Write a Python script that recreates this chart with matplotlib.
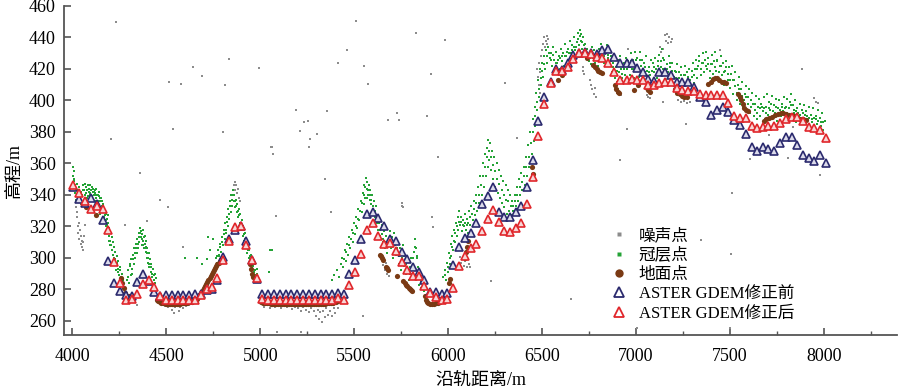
# ICESat-2 photon classes vs ASTER GDEM before/after correction
import numpy as np
import matplotlib.pyplot as plt
from matplotlib.lines import Line2D

plt.rcParams['font.family'] = ['Liberation Serif', 'Noto Sans CJK SC']
plt.rcParams['axes.unicode_minus'] = False

# ---- data ----
# ASTER GDEM samples: along-track distance (m), elevation before / after correction (m)
dem_x = [4004, 4036, 4067, 4098, 4130, 4161, 4191, 4223, 4253, 4283, 4315, 4345, 4377, 4409, 4436, 4466,
         4496, 4528, 4560, 4590, 4620, 4652, 4683, 4714, 4744, 4771, 4803, 4833, 4865, 4896, 4924, 4954, 4984,
         5011, 5042, 5073, 5104, 5135, 5166, 5197, 5228, 5259, 5290, 5321, 5352, 5383, 5414, 5447,
         5474, 5506, 5536, 5567, 5598, 5628, 5659, 5691, 5721, 5753, 5783, 5815, 5845, 5873, 5904, 5934, 5966, 5996,
         6028, 6058, 6090, 6120, 6150, 6180, 6210, 6240, 6270, 6300, 6330, 6360, 6390, 6420, 6450, 6480, 6510,
         6546, 6576, 6606, 6637, 6667, 6699, 6729, 6759, 6791, 6821, 6853, 6883, 6915, 6951, 6978,
         7007, 7036, 7066, 7096, 7125, 7155, 7185, 7217, 7247, 7279, 7309, 7341, 7372, 7400, 7430, 7462, 7492,
         7522, 7554, 7585, 7617, 7643, 7675, 7705, 7735, 7767, 7798, 7830, 7859, 7891, 7920, 7950, 7980, 8012]
dem_before = [345, 337.5, 335, 338, 334.5, 324, 298, 284, 279, 276.5, 276, 284.5, 289.5, 285.5, 278.5, 276,
              276.5, 276.5, 276.5, 276.5, 276.5, 276.8, 277, 279.5, 280, 286, 300.8, 311.9, 317.8, 320.5, 310.4, 298.7, 286.5,
              277, 276.8, 276.8, 276.8, 276.8, 276.8, 276.8, 276.8, 276.8, 276.8, 276.8, 276.8, 276.8, 278, 277,
              289.6, 298.7, 312, 328, 329, 325.2, 320.3, 311.9, 311, 304, 299.2, 294.1, 290.9, 286, 278.6, 278.6, 277.1, 277.6,
              295.5, 307, 312.5, 316, 322, 334, 339, 345, 329, 326, 326, 329.4, 333, 345, 362, 387, 402,
              412, 419.8, 419.4, 424, 428.9, 430, 431, 430.4, 429.5, 432.1, 432.5, 427.8, 424, 423.6, 423.6,
              420.4, 418.3, 413.4, 412.6, 418.3, 418.3, 416.2, 411.9, 411.9, 411.9, 408.8, 402.4, 399.2, 390.8, 394, 396.1, 392.9,
              387.6, 384.4, 378.7, 370.7, 367.9, 370.7, 369, 367.9, 372.8, 376.6, 376.6, 371.7, 365.4, 363.7, 361.8, 365.4, 360.1]
dem_after = [346.5, 341.5, 336, 331, 333, 331, 318, 297.5, 284, 273, 274, 277, 283.5, 286, 281.5, 275.5,
             273.3, 273.3, 273.3, 273.3, 273.3, 273.3, 276.5, 280, 281.2, 287.5, 298.7, 311, 319.5, 320.3, 308.3, 298.7, 287.1,
             274, 273.3, 273.3, 273.3, 273.3, 273.3, 273.3, 273.3, 273.3, 273.3, 273.3, 273.3, 273.3, 274.5, 273.3,
             282.9, 291.3, 302.3, 317.8, 322.4, 314.2, 308.9, 309.7, 304.6, 297.3, 292.4, 288.6, 288.6, 282.2, 277.6, 275.4, 273.3, 273.8,
             281, 295, 301, 306, 309, 317, 325, 330.5, 323, 317, 316.3, 318.8, 322, 334, 351.6, 377.5, 398,
             411, 418.9, 418.9, 421.1, 426.2, 430, 430, 429.3, 427.4, 426.8, 424, 418.3, 413, 413, 413.4,
             413, 413, 409.8, 409.8, 410.9, 411.9, 411.5, 407.7, 406.7, 406.2, 406.2, 404.1, 403.5, 403.5, 403.5, 403.5, 398.2,
             390.4, 388.7, 388.7, 383.8, 382.3, 383.4, 383.8, 383.8, 385.5, 388.1, 389.7, 389.7, 387, 383.4, 382.3, 381.3, 376]

# canopy photons (x, elevation)
canopy_pts = [
    (4003, 352), (4005, 358), (4008, 355), (4010, 349), (4012, 346), (4015, 341), (4018, 344), (4022, 339),
    (4025, 347), (4028, 336), (4032, 341), (4035, 345), (4040, 338), (4044, 342), (4048, 334), (4052, 340),
    (4056, 346), (4060, 337), (4064, 343), (4068, 340), (4072, 345), (4075, 336), (4078, 343), (4082, 346),
    (4085, 339), (4088, 344), (4091, 341), (4094, 346), (4097, 337), (4100, 343), (4103, 345), (4106, 339),
    (4110, 344), (4113, 340), (4116, 336), (4119, 343), (4122, 341), (4125, 338), (4128, 344), (4131, 333),
    (4134, 340), (4137, 336), (4140, 339), (4143, 331), (4146, 336), (4149, 328),
    (4006, 350), (4014, 343), (4020, 337), (4030, 343), (4038, 341), (4046, 337), (4058, 343), (4066, 347),
    (4074, 341), (4080, 338), (4087, 342), (4095, 340), (4102, 338), (4108, 342), (4115, 342), (4121, 336),
    (4127, 340), (4133, 336), (4139, 342), (4145, 338),
    (4152, 338), (4155, 332), (4158, 336), (4161, 329), (4164, 334), (4167, 326), (4170, 331), (4173, 323),
    (4176, 328), (4179, 320), (4182, 325), (4185, 317), (4188, 322), (4191, 327), (4194, 314), (4197, 319),
    (4200, 311), (4203, 316), (4206, 308), (4209, 313), (4212, 305), (4215, 310), (4218, 302), (4221, 307),
    (4224, 299), (4227, 304), (4230, 296), (4235, 301), (4240, 293), (4245, 298), (4250, 289), (4255, 294),
    (4260, 285), (4265, 290), (4270, 282),
    (4154, 329), (4160, 333), (4166, 330), (4172, 327), (4178, 324), (4184, 321), (4190, 318), (4196, 311),
    (4202, 308), (4208, 305), (4214, 302), (4220, 300), (4226, 296), (4232, 292), (4238, 297), (4244, 291),
    (4252, 292), (4258, 288), (4268, 286),
    (4290, 286), (4296, 292), (4300, 284), (4305, 295), (4310, 289), (4314, 299), (4318, 293), (4322, 302),
    (4326, 296), (4330, 306), (4334, 300), (4338, 309), (4342, 303), (4346, 312), (4350, 306), (4354, 316),
    (4357, 310), (4360, 319), (4363, 313), (4366, 317), (4369, 308), (4372, 315), (4375, 311), (4378, 318),
    (4381, 306), (4384, 314), (4387, 309), (4390, 304), (4393, 311), (4396, 300), (4399, 306), (4402, 297),
    (4405, 303), (4408, 294), (4412, 299), (4416, 291), (4420, 296), (4424, 288), (4428, 293), (4432, 286),
    (4437, 290), (4442, 284), (4447, 287),
    (4298, 288), (4308, 296), (4316, 290), (4324, 299), (4332, 303), (4340, 306), (4348, 309), (4356, 313),
    (4362, 316), (4368, 312), (4374, 308), (4380, 313), (4386, 306), (4392, 307), (4398, 303), (4404, 300),
    (4410, 296), (4418, 294), (4426, 290), (4434, 289),
    (4600, 300), (4661, 300), (4688, 296), (4714, 299), (4723, 313), (4732, 305), (4750, 312),
    (4760, 294), (4765, 300), (4770, 297), (4775, 305), (4780, 301), (4785, 309), (4790, 304), (4795, 313),
    (4800, 308), (4805, 318), (4810, 312), (4814, 322), (4818, 316), (4822, 326), (4826, 320), (4830, 331),
    (4834, 325), (4838, 336), (4842, 329), (4846, 340), (4850, 333), (4854, 343), (4858, 336), (4862, 340),
    (4866, 332), (4870, 337), (4874, 329), (4878, 334), (4882, 326), (4886, 331), (4890, 322), (4894, 328),
    (4898, 318), (4902, 324), (4906, 314), (4910, 320), (4914, 311), (4918, 316), (4922, 307), (4926, 312),
    (4930, 303), (4934, 309), (4938, 300), (4942, 305), (4946, 297), (4950, 302), (4955, 294), (4960, 299),
    (4965, 291), (4970, 296), (4975, 289), (4980, 293), (4985, 286),
    (4768, 301), (4778, 302), (4788, 307), (4798, 310), (4808, 315), (4816, 318), (4824, 323), (4832, 328),
    (4840, 333), (4848, 337), (4856, 340), (4864, 336), (4872, 333), (4880, 330), (4888, 327), (4896, 322),
    (4904, 319), (4912, 315), (4920, 312), (4928, 308), (4936, 305), (4944, 301), (4952, 298), (4962, 295),
    (4972, 292), (4982, 290),
    (5046, 291), (5052, 305), (5060, 305),
    (5380, 286), (5395, 289), (5410, 292), (5420, 288), (5428, 296), (5436, 300), (5442, 294), (5450, 305),
    (5456, 298), (5462, 309), (5468, 302), (5474, 313), (5480, 306), (5486, 318), (5492, 310), (5498, 322),
    (5504, 315), (5510, 326), (5516, 319), (5522, 331), (5528, 324), (5534, 336), (5540, 329), (5546, 341),
    (5550, 334), (5554, 346), (5558, 338), (5562, 351), (5566, 344), (5570, 348), (5574, 340), (5578, 346),
    (5582, 337), (5586, 343), (5590, 334), (5595, 340), (5600, 330), (5605, 336), (5610, 326), (5616, 333),
    (5622, 322), (5628, 318), (5634, 326), (5640, 314), (5646, 321), (5652, 310), (5658, 317), (5664, 306),
    (5670, 314), (5676, 303), (5682, 311), (5688, 317), (5694, 306), (5700, 313), (5706, 300), (5712, 316),
    (5718, 308), (5724, 302), (5730, 311), (5736, 296), (5742, 306), (5748, 292), (5754, 300), (5760, 308),
    (5766, 295), (5772, 302), (5778, 290), (5784, 298), (5790, 286), (5796, 294), (5802, 300), (5808, 290),
    (5814, 296), (5820, 304), (5826, 312), (5830, 306), (5834, 300), (5838, 294), (5842, 288), (5846, 283),
    (5852, 290), (5858, 281), (5864, 286), (5870, 279),
    (5445, 299), (5458, 304), (5470, 308), (5483, 312), (5495, 316), (5507, 320), (5519, 325), (5531, 330),
    (5543, 335), (5552, 340), (5560, 345), (5568, 338), (5576, 343), (5584, 340), (5592, 337), (5602, 333),
    (5612, 330), (5620, 326), (5630, 322), (5638, 318), (5648, 315), (5656, 312), (5666, 310), (5678, 308),
    (5690, 310), (5702, 307), (5714, 304), (5727, 306), (5739, 301), (5751, 297), (5763, 301), (5775, 296),
    (5787, 292), (5799, 290), (5811, 300), (5823, 307), (5832, 301), (5840, 291), (5855, 285),
    (5975, 288), (5982, 292), (5988, 286), (5994, 297), (6000, 291), (6004, 303), (6008, 296), (6013, 309),
    (6018, 301), (6022, 314), (6027, 305), (6032, 318), (6036, 310), (6041, 322), (6046, 314), (6050, 326),
    (6055, 318), (6060, 330), (6065, 321), (6070, 326), (6075, 317), (6080, 324), (6085, 320), (6090, 328),
    (6095, 318), (6100, 325), (6106, 316), (6112, 330), (6118, 321), (6124, 333), (6130, 324), (6136, 336),
    (6142, 327), (6148, 340), (6154, 330), (6160, 345), (6166, 335), (6172, 352), (6178, 340), (6184, 360),
    (6190, 345), (6196, 366), (6200, 352), (6205, 370), (6210, 358), (6215, 375), (6220, 362), (6225, 373),
    (6230, 356), (6235, 368), (6240, 350), (6246, 364), (6252, 345), (6258, 360), (6264, 341), (6270, 356),
    (6276, 338), (6282, 352), (6288, 335), (6294, 349), (6300, 332), (6306, 346), (6312, 328), (6318, 343),
    (6324, 330), (6330, 340), (6336, 327), (6342, 336), (6348, 330), (6354, 340), (6360, 333), (6366, 345),
    (6372, 336), (6378, 350), (6384, 340), (6390, 354), (6396, 343), (6402, 358), (6408, 346), (6414, 364),
    (6420, 352), (6426, 372), (6432, 358), (6438, 380), (6444, 366), (6450, 388), (6455, 374), (6460, 396),
    (6465, 384), (6470, 405), (6475, 394), (6480, 413), (6485, 402), (6490, 420), (6495, 410), (6500, 424),
    (6505, 415), (6510, 428), (6516, 420), (6522, 432), (6528, 424), (6534, 434), (6540, 427),
    (5985, 289), (5997, 294), (6010, 300), (6020, 307), (6030, 311), (6039, 316), (6048, 320), (6058, 323),
    (6068, 323), (6078, 321), (6088, 322), (6098, 321), (6108, 322), (6115, 326), (6127, 328), (6139, 331),
    (6151, 335), (6163, 340), (6175, 346), (6187, 352), (6198, 358), (6208, 364), (6218, 368), (6228, 364),
    (6238, 359), (6249, 355), (6261, 350), (6273, 347), (6285, 343), (6297, 340), (6309, 337), (6321, 336),
    (6333, 333), (6345, 333), (6357, 336), (6369, 340), (6381, 345), (6393, 348), (6405, 352), (6417, 358),
    (6429, 364), (6441, 373), (6452, 380), (6462, 390), (6472, 399), (6482, 407), (6492, 414), (6502, 419),
    (6512, 423), (6525, 428), (6537, 430),
    (6546, 430), (6552, 422), (6558, 434), (6564, 426), (6570, 418), (6576, 431), (6582, 424), (6588, 428),
    (6594, 420), (6600, 433), (6606, 425), (6612, 430), (6618, 422), (6624, 436), (6630, 428), (6636, 433),
    (6642, 424), (6648, 438), (6654, 430), (6660, 435), (6666, 427), (6672, 440), (6678, 432), (6684, 437),
    (6690, 443), (6696, 435), (6700, 445), (6705, 438), (6710, 442), (6715, 433), (6720, 440), (6725, 430),
    (6730, 436), (6736, 428), (6742, 433), (6748, 425), (6754, 431), (6760, 423), (6766, 434), (6772, 427),
    (6778, 432), (6784, 424), (6790, 430), (6796, 422), (6802, 433), (6808, 426), (6814, 436), (6820, 429),
    (6826, 433), (6832, 424), (6838, 430), (6844, 435), (6850, 427), (6856, 431), (6862, 422), (6868, 428),
    (6874, 418), (6880, 424), (6886, 414), (6892, 421), (6898, 412), (6904, 426), (6910, 418), (6916, 428),
    (6922, 420), (6928, 414), (6934, 424), (6940, 416), (6946, 427), (6952, 420),
    (6549, 426), (6561, 429), (6573, 424), (6585, 426), (6597, 427), (6609, 428), (6621, 428), (6633, 431),
    (6645, 430), (6657, 432), (6669, 434), (6681, 434), (6693, 439), (6702, 441), (6712, 437), (6722, 435),
    (6733, 432), (6745, 429), (6757, 427), (6769, 429), (6781, 428), (6793, 426), (6805, 429), (6817, 432),
    (6829, 428), (6841, 432), (6853, 429), (6865, 425), (6877, 421), (6889, 418), (6901, 419), (6913, 423),
    (6925, 417), (6937, 420), (6949, 423),
    (6960, 425), (6966, 416), (6972, 430), (6978, 420), (6984, 426), (6990, 414), (6996, 431), (7002, 421),
    (7008, 427), (7014, 415), (7020, 431), (7026, 422), (7032, 426), (7038, 413), (7044, 424), (7050, 418),
    (7056, 428), (7062, 411), (7068, 421), (7074, 416), (7080, 426), (7086, 412), (7092, 424), (7098, 418),
    (7104, 427), (7110, 414), (7116, 422), (7122, 429), (7128, 417), (7134, 425), (7140, 433), (7146, 420),
    (7152, 426), (7158, 413), (7164, 423), (7170, 418), (7176, 428), (7182, 421), (7188, 415), (7194, 424),
    (7200, 410), (7206, 419), (7212, 414), (7218, 423), (7224, 409), (7230, 418), (7236, 412), (7242, 421),
    (7248, 407), (7254, 416), (7260, 422), (7266, 410), (7272, 418), (7278, 412), (7284, 420), (7290, 406),
    (7296, 415), (7302, 424), (7308, 411), (7314, 420), (7320, 426), (7326, 414), (7332, 422), (7338, 428),
    (7344, 416), (7350, 424), (7356, 430), (7362, 418), (7368, 426), (7374, 431), (7380, 420), (7386, 427),
    (7392, 414), (7398, 423), (7404, 429), (7410, 417), (7416, 425), (7422, 431), (7428, 419), (7434, 426),
    (7440, 413), (7446, 422), (7452, 428), (7458, 416), (7464, 424), (7470, 410), (7476, 419), (7482, 425),
    (7488, 413), (7494, 421), (7500, 408), (7506, 417), (7512, 422), (7518, 404), (7524, 413), (7530, 418),
    (7536, 400), (7542, 410), (7548, 415), (7554, 398), (7560, 407), (7566, 412), (7572, 396), (7578, 404),
    (7584, 409), (7590, 394), (7596, 402), (7602, 407), (7608, 392), (7614, 400), (7620, 405), (7626, 390),
    (7632, 398), (7638, 403), (7644, 388), (7650, 396), (7656, 401), (7662, 390), (7668, 398), (7674, 393),
    (7680, 402), (7686, 388), (7692, 396), (7698, 404), (7704, 391), (7710, 399), (7716, 394), (7722, 403),
    (7728, 389), (7734, 397), (7740, 392), (7746, 401), (7752, 387), (7758, 395), (7764, 400), (7770, 390),
    (7776, 398), (7782, 393), (7788, 402), (7794, 388), (7800, 396), (7806, 401), (7812, 391), (7818, 399),
    (7824, 404), (7830, 389), (7836, 397), (7842, 392), (7848, 400), (7854, 386), (7860, 395), (7866, 390),
    (7872, 398), (7878, 386), (7884, 394), (7890, 389), (7896, 397), (7902, 385), (7908, 393), (7914, 388),
    (7920, 396), (7926, 384), (7932, 391), (7938, 386), (7944, 395), (7950, 383), (7956, 390), (7962, 385),
    (7968, 394), (7974, 382), (7980, 389), (7986, 384), (7992, 392), (7998, 381), (8004, 387),
    (6963, 421), (6975, 425), (6987, 420), (6999, 426), (7011, 421), (7023, 426), (7035, 419), (7047, 421),
    (7059, 419), (7071, 418), (7083, 419), (7095, 421), (7107, 420), (7119, 425), (7131, 421), (7143, 427),
    (7155, 419), (7167, 420), (7179, 424), (7191, 419), (7203, 415), (7215, 418), (7227, 414), (7239, 416),
    (7251, 412), (7263, 416), (7275, 415), (7287, 413), (7299, 419), (7311, 416), (7323, 420), (7335, 425),
    (7347, 420), (7359, 424), (7371, 422), (7383, 423), (7395, 419), (7407, 423), (7419, 421), (7431, 425),
    (7443, 418), (7455, 422), (7467, 418), (7479, 421), (7491, 417), (7503, 413), (7515, 413), (7527, 409),
    (7539, 405), (7551, 407), (7563, 403), (7575, 400), (7587, 402), (7599, 398), (7611, 396), (7623, 398),
    (7635, 394), (7647, 392), (7659, 395), (7671, 396), (7683, 395), (7695, 392), (7707, 395), (7719, 398),
    (7731, 393), (7743, 396), (7755, 391), (7767, 394), (7779, 396), (7791, 395), (7803, 392), (7815, 395),
    (7827, 397), (7839, 394), (7851, 393), (7863, 392), (7875, 391), (7887, 392), (7899, 391), (7911, 390),
    (7923, 389), (7935, 388), (7947, 389), (7959, 388), (7971, 387), (7983, 386), (7995, 386),
]

# ground photons
ground_pts = [
    (4070, 332), (4125, 327),
    (4260, 287), (4264, 284), (4272, 281), (4280, 278), (4290, 276), (4300, 275.5), (4308, 275),
    (4450, 273), (4458, 272.5), (4466, 272), (4474, 271.6), (4482, 271.4), (4490, 271.2), (4498, 271),
    (4506, 271), (4514, 270.8), (4522, 270.8), (4530, 270.7), (4538, 270.7), (4546, 270.8), (4554, 270.8),
    (4562, 271), (4570, 271), (4578, 271.1), (4586, 271.2), (4594, 271.3), (4602, 271.5), (4610, 271.6),
    (4618, 271.8), (4626, 272), (4634, 272.2), (4642, 272.5), (4650, 272.9), (4658, 273.4),
    (4664, 274), (4670, 275), (4676, 276.2), (4682, 277.4), (4688, 278.6), (4694, 279.8), (4700, 281),
    (4706, 282.3), (4712, 283.6), (4718, 284.9), (4724, 286.2), (4730, 287.5), (4736, 288.7), (4742, 289.9),
    (4748, 291.1), (4754, 292.3), (4760, 293.5), (4766, 294.7), (4772, 295.8), (4778, 296.9), (4784, 298),
    (4790, 299), (4796, 300),
    (4946, 296), (4950, 293), (4955, 290), (4962, 288),
    (5005, 271.8), (5015, 271.5), (5025, 271.3), (5035, 271.2), (5045, 271.1), (5055, 271), (5065, 271),
    (5075, 270.9), (5085, 270.9), (5095, 270.8), (5105, 270.8), (5115, 270.8), (5125, 270.7), (5135, 270.7),
    (5145, 270.7), (5155, 270.7), (5165, 270.6), (5175, 270.6), (5185, 270.6), (5195, 270.6), (5205, 270.6),
    (5215, 270.5), (5225, 270.5), (5235, 270.5), (5245, 270.5), (5255, 270.5), (5265, 270.5), (5275, 270.5),
    (5285, 270.6), (5295, 270.6), (5305, 270.7), (5315, 270.7), (5325, 270.8), (5335, 270.9), (5345, 271),
    (5355, 271.1), (5365, 271.2), (5375, 271.3), (5385, 271.5), (5395, 271.7), (5405, 272), (5415, 272.3),
    (5637, 301.9), (5642, 301), (5648, 300), (5655, 298.7), (5670, 294.5), (5676, 293.4), (5682, 292.4),
    (5726, 288.6), (5762, 285), (5768, 284), (5775, 283), (5782, 282), (5790, 281), (5797, 280),
    (5804, 279.5), (5810, 279),
    (5877, 276), (5880, 273.5), (5886, 272), (5895, 271.5), (5905, 271), (5915, 271), (5925, 271),
    (5935, 271.2), (5945, 271.5), (5955, 272),
    (6003, 284), (6010, 286.5), (6088, 300), (6094, 304), (6100, 307), (6106, 311),
    (6445, 358), (6450, 353), (6587, 413), (6605, 416),
    (6738, 426.8), (6773, 422.5), (6782, 421), (6791, 419.8), (6800, 418.8), (6810, 418), (6818, 417.3),
    (6889, 410), (6895, 407.5), (6903, 405.5), (6912, 404.6),
    (6987, 406.7), (7013, 409.8), (7058, 407.7), (7066, 406.6), (7075, 405.6),
    (7208, 407), (7220, 405), (7232, 404), (7245, 403), (7258, 402.5), (7270, 402),
    (7386, 410.5), (7398, 412), (7410, 413.5), (7420, 414.5), (7432, 414), (7444, 413), (7456, 412),
    (7468, 411.5), (7480, 411),
    (7545, 404), (7552, 402), (7560, 400), (7568, 397.5), (7576, 395.5), (7585, 394), (7595, 393),
    (7680, 387), (7695, 388), (7710, 389), (7725, 389.5), (7740, 390.5), (7755, 391.5), (7770, 392),
    (7785, 392), (7800, 391.5), (7815, 391), (7830, 390.5), (7845, 390), (7860, 389.5), (7875, 388.5),
    (7890, 388), (7905, 387.5),
]

# noise photons
noise_pts = [
    (4203, 375.7), (4230, 450), (4514, 411.6), (4535, 382.1), (4576, 410.5), (4642, 421.5), (4688, 415.6),
    (4800, 379.8), (4812, 409.8), (4833, 426.2), (4993, 420.4), (5055, 370.7), (5064, 370.3), (5068, 366),
    (5084, 326.9), (5087, 253.2), (5192, 394), (5210, 380.4), (5215, 253.2), (5231, 386.2), (5252, 387.2),
    (5258, 370.5), (5266, 375.7), (5302, 378.9), (5345, 350), (5355, 393.1), (5375, 329.4), (5412, 423.8),
    (5463, 432.1), (5511, 450.5), (5549, 263.2), (5554, 422.1), (5572, 410.3), (5680, 387.6), (5730, 391.9),
    (5739, 387.6), (5829, 443), (5886, 390.2), (5911, 416.8), (5913, 326.2), (5918, 319.9), (5946, 364.3),
    (5984, 438.4), (6227, 285.4), (6303, 410.9), (6365, 376), (6655, 274), (6915, 362.2), (6954, 381.7),
    (6960, 433), (7004, 255.4), (7146, 399.2), (7267, 385), (7345, 311.4), (7448, 432), (7501, 255.4),
    (7505, 302.5), (7513, 341.5), (7608, 362.7), (7710, 378), (7812, 363.7), (7838, 383.4), (7883, 419.8),
    (7980, 352.7), (4360, 353.8), (4466, 336.8), (4510, 332.6), (4590, 307.2), (4395, 323.5), (4280, 321),
    (4342, 270.2),
    (4018, 332), (4022, 326), (4025, 329), (4028, 320), (4031, 316), (4034, 322), (4037, 312), (4040, 318),
    (4043, 309), (4046, 314), (4049, 307), (4052, 311), (4055, 305), (4058, 310), (4062, 314), (4066, 321),
    (4495, 269.5), (4510, 268.5), (4522, 270), (4530, 267), (4540, 265), (4548, 268.5), (4556, 270),
    (4565, 266.5), (4575, 269), (4590, 268), (4605, 269.5), (4620, 270),
    (4850, 340), (4858, 346), (4864, 348), (4868, 343), (4872, 346), (4876, 341), (4880, 344), (4885, 338),
    (4890, 336),
    (5020, 269), (5035, 270), (5050, 268), (5065, 270), (5080, 268.5), (5095, 269.5), (5110, 268),
    (5125, 270), (5140, 268.5), (5155, 269.5), (5170, 267.5), (5185, 269), (5200, 268), (5215, 266.5),
    (5230, 268.5), (5245, 267), (5260, 265.5), (5272, 268), (5285, 266), (5296, 263), (5305, 267),
    (5312, 261), (5320, 265.5), (5328, 259), (5335, 266), (5345, 262.5), (5352, 268), (5360, 264),
    (5370, 266.5), (5380, 263), (5392, 268), (5400, 265), (5415, 268),
    (5655, 295.5), (5662, 292), (5668, 296.5), (5674, 290), (5680, 294), (5686, 288.5),
    (5753, 334.7), (5757, 333), (5762, 332.6),
    (6063, 300.8), (6070, 297), (6078, 299), (6085, 295), (6092, 298), (6100, 294.5), (6110, 296),
    (6117, 294.3),
    (6472, 420), (6478, 415), (6484, 424), (6490, 418), (6494, 428), (6500, 432), (6506, 436), (6512, 440),
    (6516, 434), (6520, 438), (6524, 441), (6528, 436), (6532, 439), (6482, 410), (6488, 405),
    (6718, 421), (6720, 419), (6722, 417),
    (6756, 413), (6762, 410), (6768, 407), (6775, 404), (6782, 408), (6790, 402.5),
    (6890, 408), (6898, 405), (6906, 407), (6912, 404), (6920, 403.5),
    (7128, 434), (7136, 431), (7144, 433), (7155, 441.6), (7160, 438), (7166, 442), (7172, 436.3),
    (7178, 440), (7185, 437), (7190, 439),
    (7058, 403.5), (7066, 402), (7075, 401.4),
    (7224, 400), (7240, 399), (7256, 399.5), (7272, 398.5), (7288, 399),
    (7950, 401.4), (7960, 399), (7971, 398.2),
]

labels = ['噪声点', '冠层点', '地面点', 'ASTER GDEM修正前', 'ASTER GDEM修正后']
c_noise = '#8c8c8c'
c_canopy = '#24a336'
c_ground = '#7a3a14'
c_before = '#2b2a6e'
c_after = '#e0262b'

noise = np.array(noise_pts)
canopy = np.array(canopy_pts)
ground = np.array(ground_pts)

fig = plt.figure(figsize=(9, 3.92), dpi=100)
ax = fig.add_axes([0.0711, 0.1454, 0.9256, 0.8393])

ax.scatter(noise[:, 0], noise[:, 1], s=3, c=c_noise, marker='s', linewidths=0, zorder=2)
ax.scatter(canopy[:, 0], canopy[:, 1], s=4, c=c_canopy, marker='s', linewidths=0, zorder=3)
ax.scatter(ground[:, 0], ground[:, 1], s=14, c=c_ground, linewidths=0, zorder=4)
ax.plot(dem_x, dem_before, linestyle='none', marker='^', ms=5.5, mfc='#dcdbeb', mec=c_before, mew=1.2, zorder=5)
ax.plot(dem_x, dem_after, linestyle='none', marker='^', ms=5.5, mfc='#f7d6d6', mec=c_after, mew=1.2, zorder=6)

ax.set_xlim(3955, 8390)
ax.set_ylim(251, 460)
ax.set_xticks(np.arange(4000, 8001, 500))
ax.set_xticks(np.arange(4250, 8400, 500), minor=True)
ax.set_yticks(np.arange(260, 461, 20))
for s in ['top', 'right']:
    ax.spines[s].set_visible(False)
for s in ['left', 'bottom']:
    ax.spines[s].set_color('#555555')
    ax.spines[s].set_linewidth(1.3)
ax.tick_params(which='major', direction='in', length=5, width=1.2, color='#555555', labelsize=13)
ax.tick_params(which='minor', direction='in', length=3, width=1, color='#555555')
ax.tick_params(axis='x', which='major', pad=9)
ax.tick_params(axis='y', pad=6)
ax.set_xlabel('沿轨距离/m', fontsize=13, labelpad=5)
ax.set_ylabel('高程/m', fontsize=13, labelpad=4)

handles = [
    Line2D([], [], linestyle='none', marker='s', ms=2.5, mfc=c_noise, mec='none'),
    Line2D([], [], linestyle='none', marker='s', ms=3, mfc=c_canopy, mec='none'),
    Line2D([], [], linestyle='none', marker='o', ms=6, mfc=c_ground, mec='none'),
    Line2D([], [], linestyle='none', marker='^', ms=7.5, mfc='white', mec=c_before, mew=1.3),
    Line2D([], [], linestyle='none', marker='^', ms=7.5, mfc='white', mec=c_after, mew=1.3),
]
ax.legend(handles, labels, loc='upper left', bbox_to_anchor=(0.646, 0.345), frameon=False,
          fontsize=12, handlelength=1.2, handletextpad=0.6, labelspacing=0.2, borderaxespad=0)

fig.savefig('out.png', dpi=100)
